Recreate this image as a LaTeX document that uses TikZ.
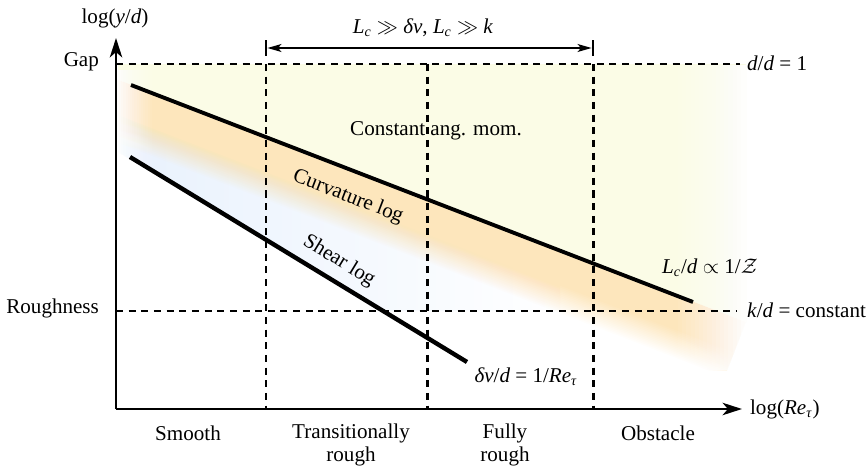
\documentclass[tikz,border=0pt]{standalone}
\usepackage{amsmath}
\usepackage{fontspec}
\setmainfont{Liberation Serif}
\usetikzlibrary{arrows.meta}

\definecolor{angyellow}{HTML}{FBFCE6}
\definecolor{curvorange}{HTML}{FDE6BC}
\definecolor{shearblue}{HTML}{E8F1FD}

\begin{document}
\begin{tikzpicture}[x=0.02cm,y=0.02cm,
  lbl/.style={inner sep=1pt,font=\fontsize{12}{13.6}\selectfont},
  axis/.style={line width=1.6pt,-{Stealth[length=11pt,width=7pt,inset=3pt]}},
  grid/.style={line width=1.7pt,dash pattern=on 4pt off 3.2pt},
  trend/.style={line width=2.2pt}]
\path[use as bounding box] (0,0) rectangle (868,470);
% corners of the plot
\coordinate (O) at (116,61);
\coordinate (ytop) at (116,432);
\coordinate (xend) at (742,61);
\coordinate (g0) at (116,406);
\coordinate (g1) at (740,406);
\coordinate (r0) at (116,159);
\coordinate (r1) at (737,159);
% the two log lines
\coordinate (c1) at (131,385);
\coordinate (c2) at (693,168);
\coordinate (s1) at (130,313);
\coordinate (s2) at (467,108);

% shaded regions
\begin{scope}
  \clip (117,100) rectangle (746,405);
  \fill[angyellow] (118,406) -- (746,406) -- (746,148) -- (118,390) -- cycle;
  \shade[left color=shearblue,middle color=shearblue,right color=white]
    (118,318) -- (383,159) -- (560,159) -- (560,200) -- (118,362) -- cycle;
  \begin{scope}[transform canvas={shift={(116,391)},rotate=-21.1}]
    \fill[curvorange] (0,0) rectangle (675,-33);
    \foreach \k in {1,...,16}{
      \pgfmathsetmacro\op{1/(\k+1)}
      \fill[curvorange,fill opacity=\op] (0,-32) rectangle (675,{-33-\k*1.6});
    }
  \end{scope}
  % fade out at both ends
  \foreach \k in {1,...,16}{
    \pgfmathsetmacro\op{1/(18-\k)}
    \fill[white,fill opacity=\op] ({678+(\k-1)*4.2},100) rectangle (747,405);
    \fill[white,fill opacity=\op] (116,290) rectangle ({152-(\k-1)*2.2},400);
  }
\end{scope}

% grid lines
\draw[grid] (g0) -- (g1);
\draw[grid] (r0) -- (r1);
\foreach \v/\nm in {266/va,427/vb,593/vc}{
  \coordinate (\nm) at (\v,406);
  \draw[grid] (\nm) -- (\nm |- O);
}

% axes
\draw[axis] (O) -- (ytop);
\draw[axis] (O) -- (xend);

% trends
\draw[trend] (c1) -- (c2);
\draw[trend,line width=2.5pt] (s1) -- (s2);

% span of the rough regimes
\coordinate (da) at (266,422);
\coordinate (db) at (593,422);
\draw[line width=0.9pt] ([yshift=-4.5pt]da) -- ([yshift=4.5pt]da);
\draw[line width=0.9pt] ([yshift=-4.5pt]db) -- ([yshift=4.5pt]db);
\draw[line width=0.9pt,{Stealth[length=8pt,width=4.5pt,inset=2pt]}-{Stealth[length=8pt,width=4.5pt,inset=2pt]}]
  ([xshift=0.8pt]da) -- ([xshift=-0.8pt]db);
\node[lbl] (span) at (423,442)
  {\textit{L}\textsubscript{\textit{c}} $\gg$ \textit{δν}, \textit{L}\textsubscript{\textit{c}} $\gg$ \textit{k}};

% axis labels
\node[lbl] (ylab) at (115,452) {log(\textit{y}/\textit{d})};
\node[lbl,anchor=west] (xlab) at (748,61) {log(\textit{Re}\textsubscript{\textit{τ}})};
\node[lbl,anchor=east] (gaplab) at (101,408) {Gap};
\node[lbl,anchor=east] (roughlab) at (101,162) {Roughness};
\node[lbl,anchor=west] (dd) at (745,407) {\textit{d}/\textit{d} = 1};
\node[lbl,anchor=west] (kd) at (745,160) {\textit{k}/\textit{d} = constant};

% region labels
\node[lbl] (angmom) at (436,339) {Constant ang. mom.};
\node[lbl,rotate=-21.1] (curvlog) at (348,273) {Curvature log};
\node[lbl,rotate=-31.3] (shearlog) at (339,209) {Shear log};
\node[lbl] (lcd) at (710,202) {\textit{L}\textsubscript{\textit{c}}/\textit{d} $\propto$ 1/$\mathcal{Z}$};
\node[lbl] (dvd) at (526,93) {\textit{δν}/\textit{d} = 1/\textit{Re}\textsubscript{\textit{τ}}};

% regimes
\node[lbl] (smooth) at (188,37) {Smooth};
\node[lbl,align=center] (trans) at (351,25) {Transitionally\\rough};
\node[lbl,align=center] (fully) at (505,25) {Fully\\rough};
\node[lbl] (obst) at (658,37) {Obstacle};
\end{tikzpicture}
\end{document}
